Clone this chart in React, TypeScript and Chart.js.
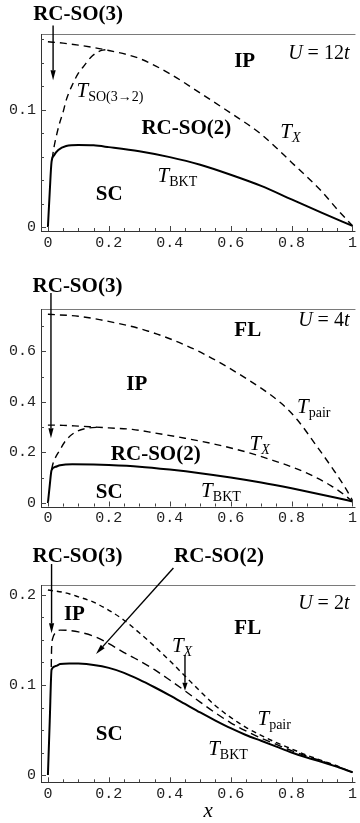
import { useEffect, useRef } from 'react';
import { Chart, registerables } from 'chart.js';
Chart.register(...registerables);

// ---------- tick values / labels ----------
const xTickValues = [0, 0.2, 0.4, 0.6, 0.8, 1];
const xTickLabels = ['0', '0.2', '0.4', '0.6', '0.8', '1'];
const xMinorTicks = [0.05, 0.1, 0.15, 0.25, 0.3, 0.35, 0.45, 0.5, 0.55, 0.65, 0.7, 0.75, 0.85, 0.9, 0.95];

const p1YTickValues = [0, 0.1];
const p1YTickLabels = ['0', '0.1'];
const p1YMinorTicks = [0.02, 0.04, 0.06, 0.08, 0.12, 0.14, 0.16];

const p2YTickValues = [0, 0.2, 0.4, 0.6];
const p2YTickLabels = ['0', '0.2', '0.4', '0.6'];
const p2YMinorTicks = [0.1, 0.3, 0.5, 0.7];

const p3YTickValues = [0, 0.1, 0.2];
const p3YTickLabels = ['0', '0.1', '0.2'];
const p3YMinorTicks = [0.025, 0.05, 0.075, 0.125, 0.15, 0.175];

// ---------- panel 1 : U = 12t ----------
const p1BktX = [0, 0.006, 0.012, 0.02, 0.034, 0.06, 0.1, 0.15, 0.2, 0.3, 0.4, 0.5, 0.6, 0.7, 0.8, 0.9, 1.0];
const p1BktY = [0, 0.03, 0.0556, 0.061, 0.0655, 0.0689, 0.0698, 0.0695, 0.068, 0.0645, 0.0595, 0.053, 0.0445, 0.035, 0.0235, 0.012, 0.001];
const p1SoX = [0.014, 0.02, 0.03, 0.039, 0.05, 0.06, 0.082, 0.1, 0.115, 0.147, 0.18, 0.2];
const p1SoY = [0.058, 0.068, 0.08, 0.089, 0.098, 0.108, 0.122, 0.131, 0.136, 0.146, 0.1506, 0.151];
const p1TxX = [0, 0.05, 0.1, 0.15, 0.2, 0.3, 0.4, 0.5, 0.6, 0.7, 0.8, 0.9, 0.95, 1.0];
const p1TxY = [0.1577, 0.1565, 0.1548, 0.1528, 0.1503, 0.1435, 0.1305, 0.114, 0.097, 0.079, 0.055, 0.03, 0.015, 0.001];

// ---------- panel 2 : U = 4t ----------
const p2BktX = [0, 0.006, 0.012, 0.025, 0.04, 0.08, 0.15, 0.2, 0.3, 0.4, 0.5, 0.6, 0.7, 0.8, 0.9, 0.95, 1.0];
const p2BktY = [0, 0.07, 0.13, 0.143, 0.149, 0.153, 0.152, 0.15, 0.1435, 0.132, 0.118, 0.101, 0.081, 0.058, 0.033, 0.02, 0.006];
const p2SoX = [0.012, 0.017, 0.039, 0.06, 0.093, 0.136, 0.17];
const p2SoY = [0.133, 0.157, 0.209, 0.249, 0.282, 0.297, 0.2995];
const p2TxX = [0, 0.05, 0.1, 0.136, 0.2, 0.277, 0.35, 0.45, 0.55, 0.65, 0.73, 0.8, 0.87, 0.93, 0.97, 1.0];
const p2TxY = [0.308, 0.307, 0.304, 0.3016, 0.297, 0.291, 0.277, 0.256, 0.232, 0.202, 0.172, 0.143, 0.107, 0.068, 0.035, 0.006];
const p2PairX = [0, 0.1, 0.169, 0.33, 0.494, 0.656, 0.764, 0.818, 0.883, 0.937, 0.98, 1.0];
const p2PairY = [0.746, 0.738, 0.725, 0.679, 0.6, 0.488, 0.396, 0.33, 0.224, 0.132, 0.053, 0.01];

// ---------- panel 3 : U = 2t ----------
const p3BktX = [0, 0.006, 0.012, 0.025, 0.04, 0.07, 0.1, 0.15, 0.2, 0.25, 0.3, 0.35, 0.4, 0.45, 0.5, 0.55, 0.6, 0.65, 0.7, 0.75, 0.8, 0.85, 0.9, 0.95, 1.0];
const p3BktY = [0, 0.06, 0.117, 0.121, 0.1233, 0.124, 0.1238, 0.1222, 0.119, 0.1135, 0.106, 0.0975, 0.0885, 0.079, 0.0695, 0.0605, 0.052, 0.0445, 0.038, 0.0315, 0.025, 0.0195, 0.0145, 0.009, 0.003];
const p3TxX = [0.011, 0.012, 0.016, 0.025, 0.04, 0.07, 0.1, 0.16, 0.2, 0.25, 0.3, 0.35, 0.4, 0.45, 0.5, 0.55, 0.6, 0.65, 0.7, 0.75, 0.8, 0.85, 0.9, 0.95, 1.0];
const p3TxY = [0.12, 0.14, 0.152, 0.158, 0.161, 0.1605, 0.159, 0.153, 0.146, 0.136, 0.127, 0.117, 0.1055, 0.0935, 0.081, 0.069, 0.058, 0.049, 0.041, 0.034, 0.027, 0.021, 0.0155, 0.0095, 0.003];
const p3PairX = [0, 0.05, 0.1, 0.15, 0.2, 0.25, 0.3, 0.35, 0.4, 0.45, 0.5, 0.55, 0.6, 0.65, 0.7, 0.75, 0.8, 0.85, 0.9, 0.95, 1.0];
const p3PairY = [0.2055, 0.203, 0.198, 0.192, 0.183, 0.172, 0.158, 0.143, 0.127, 0.11, 0.093, 0.077, 0.064, 0.053, 0.044, 0.036, 0.029, 0.022, 0.016, 0.01, 0.003];

// ---------- annotations (data coordinates) ----------
type Lbl = { kind: 'bold' | 'T' | 'U' | 'xt'; text: string; sub?: string; subItalic?: boolean; x: number; y: number };
type Arr = { x1: number; y1: number; x2: number; y2: number; head?: number };

const p1Labels: Lbl[] = [
  { kind: 'bold', text: 'RC-SO(3)', x: 0.099, y: 0.1821 },
  { kind: 'bold', text: 'IP', x: 0.646, y: 0.1421 },
  { kind: 'U', text: '12', x: 0.99, y: 0.149 },
  { kind: 'T', text: 'T', sub: 'SO(3→2)', x: 0.094, y: 0.1166 },
  { kind: 'bold', text: 'RC-SO(2)', x: 0.4545, y: 0.0851 },
  { kind: 'T', text: 'T', sub: 'X', subItalic: true, x: 0.763, y: 0.0815 },
  { kind: 'T', text: 'T', sub: 'BKT', x: 0.36, y: 0.0443 },
  { kind: 'bold', text: 'SC', x: 0.201, y: 0.0289 },
];
const p1Arrows: Arr[] = [{ x1: 0.017, y1: 0.1715, x2: 0.017, y2: 0.125 }];

const p2Labels: Lbl[] = [
  { kind: 'bold', text: 'RC-SO(3)', x: 0.097, y: 0.862 },
  { kind: 'bold', text: 'FL', x: 0.656, y: 0.6859 },
  { kind: 'U', text: '4', x: 0.99, y: 0.7254 },
  { kind: 'bold', text: 'IP', x: 0.292, y: 0.476 },
  { kind: 'T', text: 'T', sub: 'pair', x: 0.818, y: 0.382 },
  { kind: 'T', text: 'T', sub: 'X', subItalic: true, x: 0.662, y: 0.2386 },
  { kind: 'bold', text: 'RC-SO(2)', x: 0.354, y: 0.198 },
  { kind: 'bold', text: 'SC', x: 0.201, y: 0.046 },
  { kind: 'T', text: 'T', sub: 'BKT', x: 0.503, y: 0.0526 },
];
const p2Arrows: Arr[] = [{ x1: 0.01, y1: 0.83, x2: 0.01, y2: 0.256 }];

const p3Labels: Lbl[] = [
  { kind: 'bold', text: 'RC-SO(3)', x: 0.097, y: 0.2444 },
  { kind: 'bold', text: 'RC-SO(2)', x: 0.5617, y: 0.2444 },
  { kind: 'U', text: '2', x: 0.99, y: 0.1926 },
  { kind: 'bold', text: 'IP', x: 0.087, y: 0.1796 },
  { kind: 'bold', text: 'FL', x: 0.656, y: 0.164 },
  { kind: 'T', text: 'T', sub: 'X', subItalic: true, x: 0.407, y: 0.1444 },
  { kind: 'T', text: 'T', sub: 'pair', x: 0.688, y: 0.0633 },
  { kind: 'bold', text: 'SC', x: 0.201, y: 0.047 },
  { kind: 'T', text: 'T', sub: 'BKT', x: 0.526, y: 0.0296 },
  { kind: 'xt', text: 'x', x: 0.526, y: -0.0408 },
];
const p3Arrows: Arr[] = [
  { x1: 0.012, y1: 0.2344, x2: 0.012, y2: 0.1574 },
  { x1: 0.412, y1: 0.23, x2: 0.158, y2: 0.1344 },
  { x1: 0.45, y1: 0.1333, x2: 0.45, y2: 0.0935, head: 8 },
];

const SERIF = '"Liberation Serif", "DejaVu Serif", serif';

type Piece = { t: string; font: string; dy?: number };
function drawPieces(ctx: CanvasRenderingContext2D, pieces: Piece[], x: number, baseY: number, align: 'left' | 'center' | 'right') {
  const widths = pieces.map((p) => {
    ctx.font = p.font;
    return ctx.measureText(p.t).width;
  });
  const total = widths.reduce((a, b) => a + b, 0);
  let cx = align === 'right' ? x - total : align === 'center' ? x - total / 2 : x;
  ctx.textAlign = 'left';
  ctx.textBaseline = 'alphabetic';
  pieces.forEach((p, i) => {
    ctx.font = p.font;
    ctx.fillText(p.t, cx, baseY + (p.dy || 0));
    cx += widths[i];
  });
}

function makeDecor(labels: Lbl[], arrows: Arr[], yMajor: number[], yMinor: number[]) {
  return {
    id: 'decor',
    afterDatasetsDraw(chart: any) {
      const ctx: CanvasRenderingContext2D = chart.ctx;
      const xs = chart.scales.x;
      const ys = chart.scales.y;
      const a = chart.chartArea;
      ctx.save();
      // frame
      ctx.lineWidth = 1;
      ctx.strokeStyle = '#7a7a7a';
      ctx.beginPath();
      ctx.moveTo(a.left, Math.round(a.top) + 0.5);
      ctx.lineTo(a.right, Math.round(a.top) + 0.5);
      ctx.stroke();
      ctx.strokeStyle = '#333';
      ctx.beginPath();
      ctx.moveTo(Math.round(a.left) + 0.5, a.top);
      ctx.lineTo(Math.round(a.left) + 0.5, Math.round(a.bottom) + 1);
      ctx.moveTo(a.left, Math.round(a.bottom) + 0.5);
      ctx.lineTo(a.right, Math.round(a.bottom) + 0.5);
      ctx.stroke();
      // ticks
      ctx.strokeStyle = '#444';
      ctx.beginPath();
      const xt = (v: number, len: number) => {
        const px = Math.round(xs.getPixelForValue(v)) + 0.5;
        ctx.moveTo(px, a.bottom);
        ctx.lineTo(px, a.bottom - len);
      };
      const yt = (v: number, len: number) => {
        const py = Math.round(ys.getPixelForValue(v)) + 0.5;
        ctx.moveTo(a.left, py);
        ctx.lineTo(a.left + len, py);
      };
      xTickValues.forEach((v) => xt(v, 5));
      xMinorTicks.forEach((v) => xt(v, 3));
      yMajor.forEach((v) => yt(v, 5));
      yMinor.forEach((v) => yt(v, 3));
      ctx.stroke();
      // arrows
      ctx.strokeStyle = '#000';
      ctx.fillStyle = '#000';
      arrows.forEach((ar) => {
        const x1 = xs.getPixelForValue(ar.x1);
        const y1 = ys.getPixelForValue(ar.y1);
        const x2 = xs.getPixelForValue(ar.x2);
        const y2 = ys.getPixelForValue(ar.y2);
        const hl = ar.head || 10;
        const ang = Math.atan2(y2 - y1, x2 - x1);
        const bx = x2 - hl * Math.cos(ang);
        const by = y2 - hl * Math.sin(ang);
        ctx.lineWidth = 1.4;
        ctx.beginPath();
        ctx.moveTo(x1, y1);
        ctx.lineTo(bx, by);
        ctx.stroke();
        const hw = 2.6;
        ctx.beginPath();
        ctx.moveTo(x2, y2);
        ctx.lineTo(bx + hw * Math.sin(ang), by - hw * Math.cos(ang));
        ctx.lineTo(bx - hw * Math.sin(ang), by + hw * Math.cos(ang));
        ctx.closePath();
        ctx.fill();
      });
      // labels
      labels.forEach((l) => {
        const px = xs.getPixelForValue(l.x);
        const py = ys.getPixelForValue(l.y);
        if (l.kind === 'bold') {
          drawPieces(ctx, [{ t: l.text, font: `bold 21px ${SERIF}` }], px, py + 7, 'center');
        } else if (l.kind === 'T') {
          drawPieces(
            ctx,
            [
              { t: l.text, font: `italic 21px ${SERIF}` },
              { t: l.sub || '', font: `${l.subItalic ? 'italic ' : ''}14px ${SERIF}`, dy: 4 },
            ],
            px,
            py + 7,
            'left'
          );
        } else if (l.kind === 'U') {
          drawPieces(
            ctx,
            [
              { t: 'U', font: `italic 20px ${SERIF}` },
              { t: ' = ' + l.text, font: `20px ${SERIF}` },
              { t: 't', font: `italic 20px ${SERIF}` },
            ],
            px,
            py + 7,
            'right'
          );
        } else {
          drawPieces(ctx, [{ t: l.text, font: `italic 21px ${SERIF}` }], px, py + 5, 'center');
        }
      });
      ctx.restore();
    },
  };
}

const zip = (xs: number[], ys: number[]) => xs.map((x, i) => ({ x, y: ys[i] }));

type Series = { xs: number[]; ys: number[]; dash?: number[] };

type PanelSpec = {
  top: number;
  height: number;
  padTop: number;
  xAxisH: number;
  yMin: number;
  yMax: number;
  yTicks: number[];
  yTickLabels: string[];
  yMinor: number[];
  series: Series[];
  labels: Lbl[];
  arrows: Arr[];
};

const panels: PanelSpec[] = [
  {
    top: 0, height: 262, padTop: 34, xAxisH: 31, yMin: -0.0034, yMax: 0.1643,
    yTicks: p1YTickValues, yTickLabels: p1YTickLabels, yMinor: p1YMinorTicks,
    series: [
      { xs: p1BktX, ys: p1BktY },
      { xs: p1SoX, ys: p1SoY, dash: [7, 5] },
      { xs: p1TxX, ys: p1TxY, dash: [7, 5] },
    ],
    labels: p1Labels, arrows: p1Arrows,
  },
  {
    top: 262, height: 270, padTop: 47, xAxisH: 25.5, yMin: -0.0138, yMax: 0.7668,
    yTicks: p2YTickValues, yTickLabels: p2YTickLabels, yMinor: p2YMinorTicks,
    series: [
      { xs: p2BktX, ys: p2BktY },
      { xs: p2SoX, ys: p2SoY, dash: [7, 5] },
      { xs: p2TxX, ys: p2TxY, dash: [7, 5] },
      { xs: p2PairX, ys: p2PairY, dash: [7, 5] },
    ],
    labels: p2Labels, arrows: p2Arrows,
  },
  {
    top: 532, height: 291, padTop: 53, xAxisH: 40.7, yMin: -0.0081, yMax: 0.2111,
    yTicks: p3YTickValues, yTickLabels: p3YTickLabels, yMinor: p3YMinorTicks,
    series: [
      { xs: p3BktX, ys: p3BktY },
      { xs: p3TxX, ys: p3TxY, dash: [8, 5] },
      { xs: p3PairX, ys: p3PairY, dash: [5, 4] },
    ],
    labels: p3Labels, arrows: p3Arrows,
  },
];

function buildChart(canvas: HTMLCanvasElement, p: PanelSpec) {
  const tickFont = { family: '"Liberation Mono", "DejaVu Sans Mono", monospace', size: 15 };
  return new Chart(canvas, {
    type: 'scatter',
    data: {
      datasets: p.series.map((s) => ({
        data: zip(s.xs, s.ys),
        showLine: true,
        borderColor: '#000',
        backgroundColor: '#000',
        borderWidth: s.dash ? 1.4 : 2,
        borderDash: s.dash || [],
        pointRadius: 0,
        cubicInterpolationMode: 'monotone' as const,
      })),
    },
    options: {
      animation: false,
      responsive: false,
      maintainAspectRatio: false,
      devicePixelRatio: 1,
      events: [],
      layout: { autoPadding: false, padding: { top: p.padTop, left: 0, right: 0, bottom: 0 } },
      plugins: { legend: { display: false }, tooltip: { enabled: false } },
      scales: {
        x: {
          type: 'linear',
          min: -0.0227,
          max: 1.0097,
          afterFit: (s: any) => {
            s.height = p.xAxisH;
          },
          afterBuildTicks: (s: any) => {
            s.ticks = xTickValues.map((v) => ({ value: v }));
          },
          ticks: {
            font: tickFont,
            color: '#222',
            padding: 3,
            maxRotation: 0,
            autoSkip: false,
            callback: (_v: any, i: number) => xTickLabels[i],
          },
          grid: { display: false, drawTicks: false },
          border: { display: false },
        },
        y: {
          type: 'linear',
          min: p.yMin,
          max: p.yMax,
          afterFit: (s: any) => {
            s.width = 41;
          },
          afterBuildTicks: (s: any) => {
            s.ticks = p.yTicks.map((v) => ({ value: v }));
          },
          ticks: {
            font: tickFont,
            color: '#222',
            padding: 5,
            autoSkip: false,
            callback: (_v: any, i: number) => p.yTickLabels[i],
          },
          grid: { display: false, drawTicks: false },
          border: { display: false },
        },
      },
    } as any,
    plugins: [makeDecor(p.labels, p.arrows, p.yTicks, p.yMinor)],
  });
}

export default function App() {
  const r0 = useRef<HTMLCanvasElement>(null);
  const r1 = useRef<HTMLCanvasElement>(null);
  const r2 = useRef<HTMLCanvasElement>(null);
  useEffect(() => {
    const refs = [r0, r1, r2];
    const charts = panels.map((p, i) => buildChart(refs[i].current as HTMLCanvasElement, p));
    return () => charts.forEach((c) => c.destroy());
  }, []);
  const refs = [r0, r1, r2];
  return (
    <div style={{ position: 'absolute', left: 0, top: 0, width: 360, height: 823, background: '#fff', overflow: 'hidden' }}>
      {panels.map((p, i) => (
        <canvas
          key={i}
          ref={refs[i]}
          width={360}
          height={p.height}
          style={{ position: 'absolute', left: 0, top: p.top, width: 360, height: p.height }}
        />
      ))}
    </div>
  );
}
